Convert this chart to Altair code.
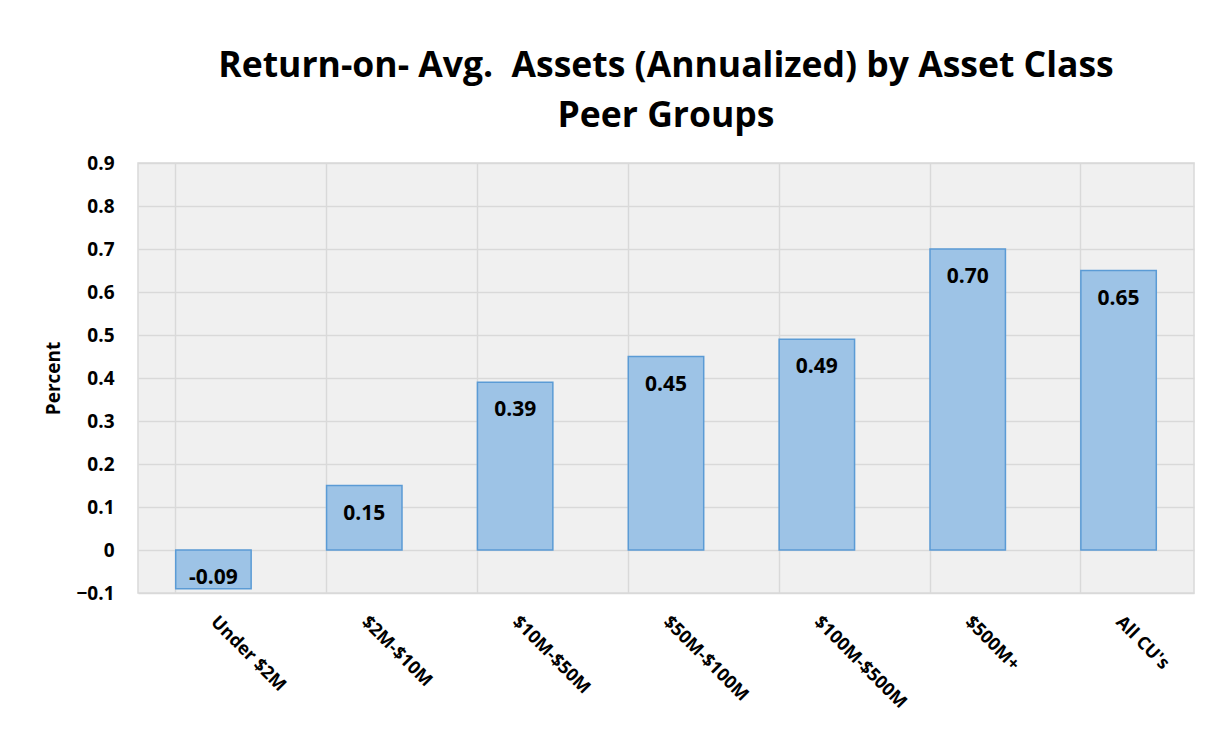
import altair as alt
import pandas as pd

categories = ["Under $2M", "$2M-$10M", "$10M-$50M", "$50M-$100M", "$100M-$500M", "$500M+", "All CU's"]
values = [-0.09, 0.15, 0.39, 0.45, 0.49, 0.70, 0.65]
labels = ["-0.09", "0.15", "0.39", "0.45", "0.49", "0.70", "0.65"]
y_ticks = [-0.1, 0, 0.1, 0.2, 0.3, 0.4, 0.5, 0.6, 0.7, 0.8, 0.9]

df = pd.DataFrame({"cat": categories, "value": values, "label": labels})

FONT = "Open Sans"

x = alt.X(
    "cat:N",
    sort=categories,
    scale=alt.Scale(paddingInner=0.5, paddingOuter=0.25),
    axis=alt.Axis(
        title=None,
        labelAngle=45,
        labelAlign="left",
        labelBaseline="middle",
        labelFont=FONT,
        labelFontSize=18,
        labelFontWeight="bold",
        labelColor="black",
        labelPadding=26,
        ticks=False,
        domain=False,
        grid=True,
        bandPosition=0,
        gridColor="#d9d9d9",
        gridWidth=1.5,
    ),
)

y = alt.Y(
    "value:Q",
    scale=alt.Scale(domain=[-0.1, 0.9], nice=False, zero=False),
    axis=alt.Axis(
        title="Percent",
        titleFont=FONT,
        titleFontSize=19,
        titleFontWeight="bold",
        titleColor="black",
        titlePadding=12,
        values=y_ticks,
        labelExpr="abs(datum.value) < 1e-9 ? '0' : format(datum.value, '.1f')",
        labelFont=FONT,
        labelFontSize=19,
        labelFontWeight="bold",
        labelColor="black",
        labelPadding=24,
        ticks=False,
        domain=False,
        gridColor="#d9d9d9",
        gridWidth=1.5,
    ),
)

bars = alt.Chart(df).mark_bar(
    fill="#9dc3e6", stroke="#5b9bd5", strokeWidth=1.5
).encode(x=x, y=y, y2=alt.datum(0))

text = alt.Chart(df).transform_calculate(
    top="max(datum.value, 0)"
).mark_text(
    font=FONT, fontSize=21, fontWeight="bold", color="black", dy=28, baseline="middle"
).encode(
    x=alt.X("cat:N", sort=categories),
    y=alt.Y("top:Q"),
    text="label:N",
)

chart = alt.layer(bars, text).properties(
    width=1056,
    height=430,
    background="white",
    title=alt.TitleParams(
        text=["Return-on- Avg.\u00a0 Assets (Annualized) by Asset Class", "Peer Groups"],
        font=FONT,
        fontSize=35.5,
        fontWeight="bold",
        color="black",
        anchor="middle",
        offset=20,
        lineHeight=50,
    ),
    padding={"left": 36, "top": 40, "right": 5, "bottom": 5},
).configure_view(
    fill="#f0f0f0", stroke="#d9d9d9", strokeWidth=1.5
)

chart.save("out.html", embed_options={"renderer": "svg", "actions": False})
